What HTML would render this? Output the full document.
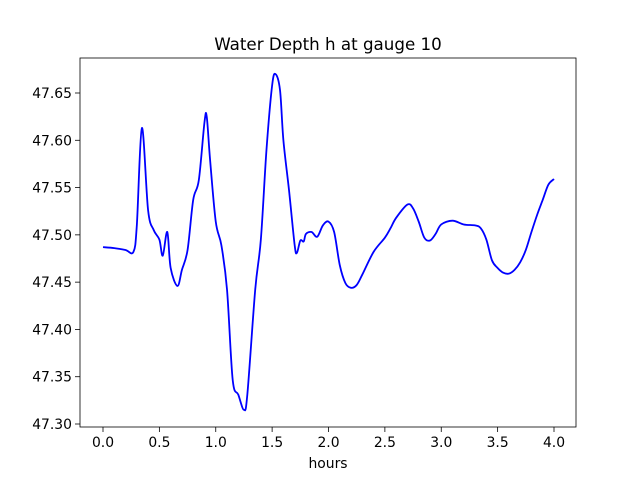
<!DOCTYPE html>
<html><head><meta charset="utf-8"><style>
body{margin:0;background:#fff}
text{font-family:"DejaVu Sans","Liberation Sans",sans-serif;fill:#000}
</style></head><body>
<svg id="chart" width="640" height="480" xmlns="http://www.w3.org/2000/svg">
<rect width="640" height="480" fill="#fff"/>
<text x="328" y="50" font-size="16.7" text-anchor="middle">Water Depth h at gauge 10</text>
<g id="axes"></g>
<text x="328" y="468" font-size="13.9" text-anchor="middle">hours</text>
</svg>
<script>
const hours=[0,0.1,0.2,0.27,0.3,0.345,0.4,0.45,0.5,0.53,0.57,0.6,0.66,0.7,0.75,0.8,0.85,0.9,0.92,0.95,1.0,1.05,1.1,1.15,1.2,1.25,1.28,1.35,1.4,1.45,1.5,1.53,1.57,1.6,1.65,1.7,1.72,1.75,1.78,1.8,1.85,1.9,1.95,2.0,2.05,2.1,2.15,2.2,2.25,2.3,2.4,2.5,2.55,2.6,2.7,2.75,2.8,2.85,2.9,2.95,3.0,3.1,3.2,3.3,3.35,3.4,3.45,3.5,3.55,3.6,3.65,3.7,3.75,3.8,3.85,3.9,3.95,4.0];
const depth=[47.487,47.486,47.484,47.482,47.510,47.613,47.526,47.505,47.495,47.478,47.503,47.465,47.446,47.463,47.484,47.537,47.558,47.619,47.625,47.579,47.514,47.489,47.442,47.347,47.331,47.315,47.331,47.442,47.495,47.590,47.658,47.670,47.653,47.600,47.547,47.489,47.481,47.494,47.493,47.501,47.503,47.498,47.510,47.514,47.503,47.468,47.449,47.444,47.447,47.458,47.482,47.497,47.507,47.518,47.532,47.528,47.514,47.497,47.494,47.501,47.511,47.515,47.511,47.510,47.507,47.495,47.473,47.465,47.460,47.459,47.463,47.471,47.484,47.503,47.521,47.537,47.553,47.559];
const xTicks=[0,0.5,1,1.5,2,2.5,3,3.5,4];
const xTickLabels=["0.0","0.5","1.0","1.5","2.0","2.5","3.0","3.5","4.0"];
const yTicks=[47.30,47.35,47.40,47.45,47.50,47.55,47.60,47.65];
const NS="http://www.w3.org/2000/svg";
const L=80,R=576,T=58,B=427;
const sx=v=>103+v*(554-103)/4;
const sy=v=>424-(v-47.30)*(424-93)/0.35;
const g=document.getElementById('axes');
function mk(t,a){const e=document.createElementNS(NS,t);for(const k in a)e.setAttribute(k,a[k]);g.appendChild(e);return e;}
xTicks.forEach((v,i)=>{
 const l=mk('line',{x1:sx(v),x2:sx(v),y1:B,y2:B+5,stroke:'#000','stroke-width':0.8});
 
 
 const t=mk('text',{x:sx(v),y:B+20,'font-size':13.9,'text-anchor':'middle'});t.textContent=xTickLabels[i];
 
 
});
yTicks.forEach(v=>{
 const l=mk('line',{x1:L-5,x2:L,y1:sy(v),y2:sy(v),stroke:'#000','stroke-width':0.8});
 
 
 const t=mk('text',{x:L-8,y:sy(v)+5,'font-size':13.9,'text-anchor':'end'});t.textContent=v.toFixed(2);
 
 
});
const pts=hours.map((h,i)=>[sx(h),sy(depth[i])]);
let d='M'+pts[0][0]+','+pts[0][1];
for(let i=0;i<pts.length-1;i++){
 const p0=pts[Math.max(0,i-1)],p1=pts[i],p2=pts[i+1],p3=pts[Math.min(pts.length-1,i+2)];
 const c1=[p1[0]+(p2[0]-p0[0])/6,p1[1]+(p2[1]-p0[1])/6],c2=[p2[0]-(p3[0]-p1[0])/6,p2[1]-(p3[1]-p1[1])/6];
 d+=` C${c1[0]},${c1[1]} ${c2[0]},${c2[1]} ${p2[0]},${p2[1]}`;
}
const path=mk('path',{d:d,fill:'none',stroke:'#0000ff','stroke-width':1.8});


const fr=mk('rect',{x:L,y:T,width:R-L,height:B-T,fill:'none',stroke:'#000','stroke-width':0.8});


</script>
</body></html>
